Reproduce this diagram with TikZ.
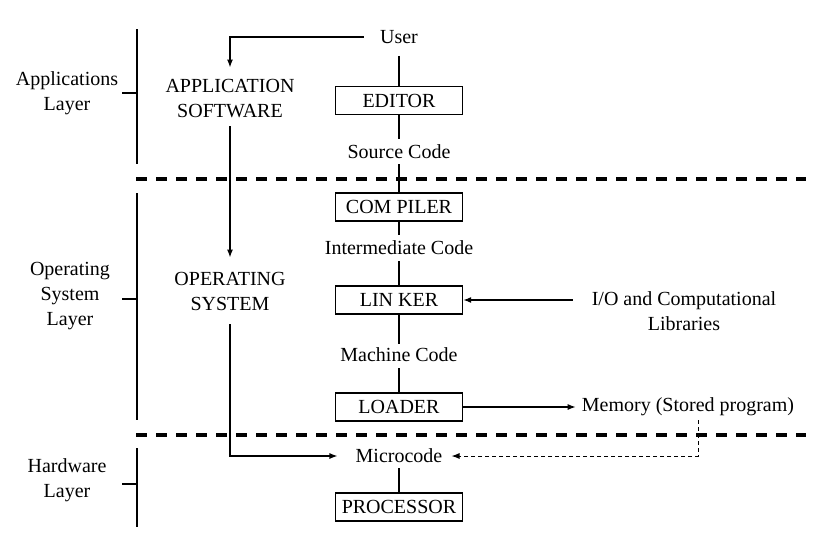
\documentclass[tikz,border=0pt]{standalone}
\usepackage{fontspec}
\setmainfont{Liberation Serif}
\usetikzlibrary{arrows.meta}
\begin{document}
\begin{tikzpicture}[x=1pt,y=-1pt,
  every node/.style={font=\fontsize{20}{25}\selectfont, inner sep=2pt},
  txt/.style={align=center},
  boxnode/.style={draw, line width=1.3pt, minimum width=127pt, minimum height=28pt, inner sep=0pt},
  conn/.style={line width=1.3pt},
  arr/.style={line width=1.3pt, -{Latex[length=8pt,width=6pt]}},
  darr/.style={line width=1pt, dash pattern=on 4pt off 3pt, -{Latex[length=8pt,width=6pt]}},
  layersep/.style={line width=4pt, dash pattern=on 11pt off 9pt},
  bracket/.style={line width=1.3pt}
]
\useasboundingbox (0,0) rectangle (839,555);

% layer labels
\node[txt] (applab) at (67,93) {Applications\\Layer};
\node[txt] (oslab) at (70,296) {Operating\\System\\Layer};
\node[txt] (hwlab) at (67,480) {Hardware\\Layer};

% brackets
\coordinate (a1) at (137,29);  \coordinate (a2) at (137,164);
\coordinate (at1) at (122,93); \coordinate (at2) at (137,93);
\coordinate (o1) at (137,193); \coordinate (o2) at (137,420);
\coordinate (ot1) at (122,299); \coordinate (ot2) at (137,299);
\coordinate (h1) at (137,448); \coordinate (h2) at (137,527);
\coordinate (ht1) at (122,484); \coordinate (ht2) at (137,484);
\draw[bracket] (a1) -- (a2);
\draw[bracket] (at1) -- (at2);
\draw[bracket] (o1) -- (o2);
\draw[bracket] (ot1) -- (ot2);
\draw[bracket] (h1) -- (h2);
\draw[bracket] (ht1) -- (ht2);

% layer separators
\coordinate (s1a) at (136,179); \coordinate (s1b) at (806,179);
\coordinate (s2a) at (136,435); \coordinate (s2b) at (806,435);
\draw[layersep] (s1a) -- (s1b);
\draw[layersep] (s2a) -- (s2b);

% main column
\node (user) at (399,37) {User};
\node[boxnode] (editor) at (399,100.5) {EDITOR};
\node (src) at (399,152) {Source Code};
\node[boxnode] (compiler) at (399,207) {COM PILER};
\node (inter) at (399,248) {Intermediate Code};
\node[boxnode] (linker) at (399,300) {LIN KER};
\node (mach) at (399,355) {Machine Code};
\node[boxnode] (loader) at (399,407) {LOADER};
\node (micro) at (399,456) {Microcode};
\node[boxnode] (processor) at (399,507) {PROCESSOR};

% side texts
\node[txt] (appsw) at (230,99) {APPLICATION\\SOFTWARE};
\node[txt] (os) at (230,291) {OPERATING\\SYSTEM};
\node[txt] (io) at (684,311) {I/O and Computational\\Libraries};
\node (mem) at (688,407) {Memory (Stored program)};

% connectors in main column
\draw[conn] ([yshift=-10pt]user.south) -- (editor.north);
\draw[conn] (editor.south) -- ([yshift=4pt]src.north);
\draw[conn] ([yshift=-3pt]src.south) -- (compiler.north);
\draw[conn] (compiler.south) -- ([yshift=4pt]inter.north);
\draw[conn] ([yshift=-4pt]inter.south) -- (linker.north);
\draw[conn] (linker.south) -- ([yshift=2pt]mach.north);
\draw[conn] ([yshift=-4pt]mach.south) -- (loader.north);
\draw[conn] ([yshift=-3pt]micro.south) -- (processor.north);

% user to application software
\draw[arr] ([xshift=-14pt]user.west) -| ([yshift=10pt]appsw.north);
% application software to OS
\draw[arr] ([yshift=-6pt]appsw.south) -- ([yshift=12pt]os.north);
% OS to microcode
\draw[arr] ([yshift=-12pt]os.south) |- ([xshift=-16pt]micro.west);
% libraries to linker
\draw[arr] ([xshift=-17pt]io.west |- linker.east) -- (linker.east);
% loader to memory
\draw[arr] (loader.east) -- ([xshift=-4pt]mem.west);
% memory to microcode
\coordinate (memdrop) at (698,420);
\draw[darr] (memdrop) |- ([xshift=7pt]micro.east);
\end{tikzpicture}
\end{document}
